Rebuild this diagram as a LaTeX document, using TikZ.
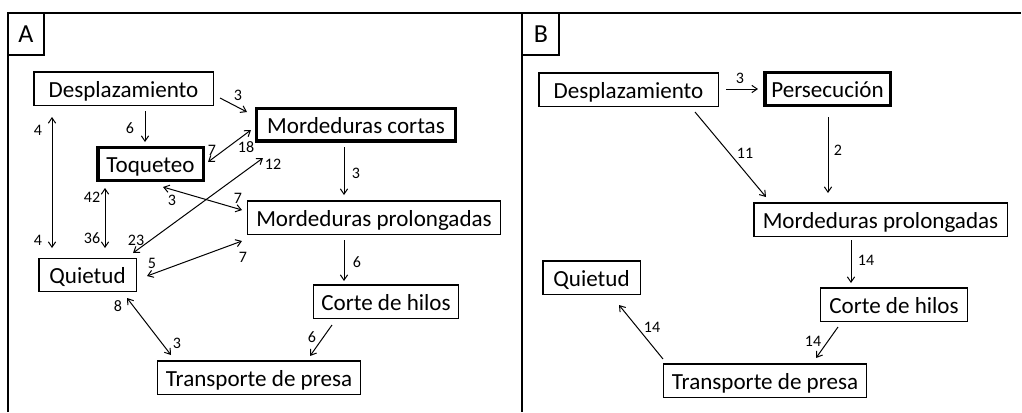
\documentclass[tikz,border=0pt]{standalone}
\usepackage{fontspec}
\setmainfont{Carlito}
\usetikzlibrary{arrows.meta}

\begin{document}
\begin{tikzpicture}[x=0.75pt, y=-0.75pt,
        >={Straight Barb[length=4pt,width=5.5pt]},
        box/.style={draw, rectangle, line width=1.1pt, minimum height=25.1pt, inner sep=0pt,
            text height=16.4pt, text depth=3.6pt, font=\fontsize{17.3}{20}\selectfont},
        thick box/.style={box, line width=2.6pt, minimum height=24.4pt},
        link/.style={line width=0.75pt},
        num/.style={inner sep=0pt, font=\fontsize{12}{14}\selectfont},
        letter/.style={inner sep=0pt, font=\fontsize{19.5}{22}\selectfont}]
        \useasboundingbox (0,0) rectangle (1022,412);

        % frame and panel letters
        \draw[line width=1.5pt] (8,412) -- (8,13) -- (1021,13);
        \draw[line width=1.5pt] (522,13) -- (522,412);
        \draw[line width=1.1pt] (8,13) rectangle (44,55);
        \draw[line width=1.1pt] (522,13) rectangle (559,55);
        \node[letter] (panelA) at (26,34) {A};
        \node[letter] (panelB) at (541,34) {B};

        % panel A
        \node[box, minimum width=134.6pt] (desp) at (123.5,88.5) {Desplazamiento};
        \node[thick box, minimum width=79.1pt] (toq) at (150.5,164) {Toqueteo};
        \node[thick box, minimum width=148.9pt] (mcor) at (356,124.5) {Mordeduras cortas};
        \node[box, minimum width=189.4pt] (mprol) at (374,217.5) {Mordeduras prolongadas};
        \node[box, minimum width=108.4pt] (corte) at (386,301.5) {Corte de hilos};
        \node[box, minimum width=73.1pt] (quiet) at (87.5,275) {Quietud};
        \node[box, minimum width=151.9pt] (trans) at (259,377.5) {Transporte de presa};

        \draw[link, ->] ([shift={(96.5,9.5)}]desp.center) -- ([shift={(-109,-12.5)}]mcor.center);
        \draw[link, ->] ([shift={(21.5,22.5)}]desp.center) -- ([shift={(-5.5,-22)}]toq.center);
        \draw[link, <->] ([shift={(57.5,-2)}]toq.center) -- ([shift={(-105,5.5)}]mcor.center);
        \draw[link, <->] ([shift={(45.5,-22)}]quiet.center) -- ([shift={(-93,33.5)}]mcor.center);
        \draw[link, <->] ([shift={(12.5,23)}]toq.center) -- ([shift={(-132,-7.5)}]mprol.center);
        \draw[link, <->] ([shift={(59.5,1)}]quiet.center) -- ([shift={(-132,23.5)}]mprol.center);
        \draw[link, <->] ([shift={(-71.5,28.5)}]desp.center) -- ([shift={(-35.5,-27)}]quiet.center);
        \draw[link, <->] ([shift={(-45.5,24)}]toq.center) -- ([shift={(17.5,-27)}]quiet.center);
        \draw[link, ->] ([shift={(-12,22.5)}]mcor.center) -- ([shift={(-30,-22.5)}]mprol.center);
        \draw[link, ->] ([shift={(-30,22.5)}]mprol.center) -- ([shift={(-42,-20.5)}]corte.center);
        \draw[link, ->] ([shift={(-54,23.5)}]corte.center) -- ([shift={(51,-21.5)}]trans.center);
        \draw[link, <->] ([shift={(39.5,23)}]quiet.center) -- ([shift={(-88,-22.5)}]trans.center);

        \node[num] (n-desp-mcor) at (238,95) {3};
        \node[num] (n-desp-toq) at (130,128) {6};
        \node[num] (n-toq-mcor) at (212,150) {7};
        \node[num] (n-mcor-toq) at (246,147) {18};
        \node[num] (n-quiet-mcor) at (136,240) {23};
        \node[num] (n-mcor-quiet) at (273,164) {12};
        \node[num] (n-toq-mprol) at (172,200) {3};
        \node[num] (n-mprol-toq) at (238,198) {7};
        \node[num] (n-quiet-mprol) at (152,263) {5};
        \node[num] (n-mprol-quiet) at (243,257) {7};
        \node[num] (n-desp-quiet) at (38,130) {4};
        \node[num] (n-quiet-desp) at (38,240) {4};
        \node[num] (n-toq-quiet) at (92,197) {42};
        \node[num] (n-quiet-toq) at (92,238) {36};
        \node[num] (n-mcor-mprol) at (356,173) {3};
        \node[num] (n-mprol-corte) at (357,262) {6};
        \node[num] (n-corte-trans) at (312,337) {6};
        \node[num] (n-quiet-trans) at (118,306) {8};
        \node[num] (n-trans-quiet) at (177,343) {3};

        % panel B
        \node[box, minimum width=134.6pt] (despB) at (628.5,89.5) {Desplazamiento};
        \node[thick box, minimum width=94.1pt] (pers) at (827.5,89) {Persecución};
        \node[box, minimum width=190.1pt] (mprolB) at (880.5,219.5) {Mordeduras prolongadas};
        \node[box, minimum width=73.1pt] (quietB) at (591.5,277.5) {Quietud};
        \node[box, minimum width=109.9pt] (corteB) at (894,304.5) {Corte de hilos};
        \node[box, minimum width=151.9pt] (transB) at (765,380.5) {Transporte de presa};

        \draw[link, ->] ([shift={(97.5,-0.5)}]despB.center) -- ([shift={(-69.5,0)}]pers.center);
        \draw[link, ->] ([shift={(66.5,22.5)}]despB.center) -- ([shift={(-114.5,-22.5)}]mprolB.center);
        \draw[link, ->] ([shift={(0.5,28)}]pers.center) -- ([shift={(-52.5,-26.5)}]mprolB.center);
        \draw[link, ->] ([shift={(-29.5,20.5)}]mprolB.center) -- ([shift={(-43,-21.5)}]corteB.center);
        \draw[link, ->] ([shift={(-56,22.5)}]corteB.center) -- ([shift={(51,-22.5)}]transB.center);
        \draw[link, ->] ([shift={(-102,-21.5)}]transB.center) -- ([shift={(27.5,27.5)}]quietB.center);

        \node[num] (n-despB-pers) at (740,78) {3};
        \node[num] (n-despB-mprolB) at (745,153) {11};
        \node[num] (n-pers-mprolB) at (838,150) {2};
        \node[num] (n-mprolB-corteB) at (866,260) {14};
        \node[num] (n-corteB-transB) at (813,341) {14};
        \node[num] (n-transB-quietB) at (652,327) {14};
    \end{tikzpicture}
\end{document}
